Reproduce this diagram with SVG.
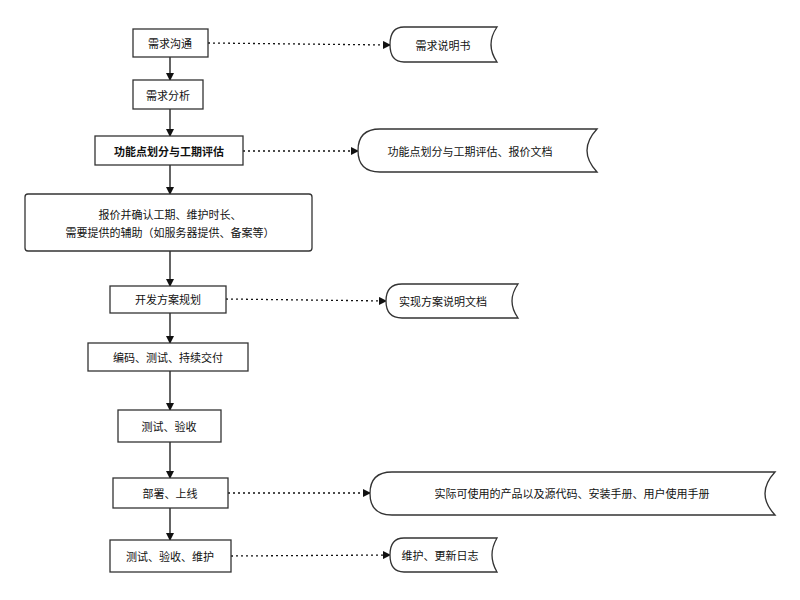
<svg xmlns="http://www.w3.org/2000/svg" width="800" height="600" viewBox="0 0 800 600">
<style>
rect{fill:#fff;stroke:#333;stroke-width:1.3}
.d{fill:#fff;stroke:#333;stroke-width:1.3}
text{font-family:"Noto Sans CJK SC","Liberation Sans",sans-serif;font-size:11px;fill:#111;text-anchor:middle;dominant-baseline:central}
.c line{stroke:#111;stroke-width:1.3}
.c .s{stroke-dasharray:2 3}
</style>
<defs><marker id="a" markerWidth="8" markerHeight="8" refX="7" refY="4" orient="auto" markerUnits="userSpaceOnUse"><path d="M0,0L8,4L0,8z" fill="#111"/></marker></defs>
<rect fill="#fff" width="800" height="600" style="stroke:none"/>
<g class="c">
<line x1="170" y1="57" x2="170" y2="80" marker-end="url(#a)"/>
<line x1="170" y1="109" x2="170" y2="136" marker-end="url(#a)"/>
<line x1="170" y1="165" x2="170" y2="194" marker-end="url(#a)"/>
<line x1="170" y1="251" x2="170" y2="286" marker-end="url(#a)"/>
<line x1="170" y1="313" x2="170" y2="343" marker-end="url(#a)"/>
<line x1="170" y1="371" x2="170" y2="410" marker-end="url(#a)"/>
<line x1="170" y1="442" x2="170" y2="478" marker-end="url(#a)"/>
<line x1="170" y1="508" x2="170" y2="540" marker-end="url(#a)"/>
<line class="s" x1="208" y1="43" x2="390" y2="45" marker-end="url(#a)"/>
<line class="s" x1="243" y1="151" x2="358" y2="151" marker-end="url(#a)"/>
<line class="s" x1="226" y1="299" x2="386" y2="301" marker-end="url(#a)"/>
<line class="s" x1="228" y1="493" x2="370" y2="493" marker-end="url(#a)"/>
<line class="s" x1="231" y1="556" x2="390" y2="555" marker-end="url(#a)"/>
</g>
<g id="n1"><rect x="133" y="29" width="75" height="28"/><text x="170" y="43">需求沟通</text></g>
<g id="n2"><rect x="133" y="80" width="70" height="29"/><text x="168" y="95">需求分析</text></g>
<g id="n3"><rect x="95" y="136" width="148" height="29"/><text x="169" y="151" font-weight="bold">功能点划分与工期评估</text></g>
<g id="n4"><rect x="25" y="194" width="287" height="57" rx="3"/><text x="170" y="214">报价并确认工期、维护时长、</text><text x="170" y="232">需要提供的辅助（如服务器提供、备案等）</text></g>
<g id="n5"><rect x="110" y="286" width="116" height="27"/><text x="168" y="299">开发方案规划</text></g>
<g id="n6"><rect x="88" y="343" width="160" height="28"/><text x="168" y="357">编码、测试、持续交付</text></g>
<g id="n7"><rect x="118" y="410" width="103" height="32"/><text x="169" y="426">测试、验收</text></g>
<g id="n8"><rect x="113" y="478" width="115" height="30"/><text x="170" y="493">部署、上线</text></g>
<g id="n9"><rect x="110" y="540" width="121" height="32"/><text x="170" y="556">测试、验收、维护</text></g>
<g id="o1"><path class="d" d="M404,27H497Q485,44.5 497,62H404Q390,62 390,44.5Q390,27 404,27Z"/><text x="443" y="45">需求说明书</text></g>
<g id="o2"><path class="d" d="M380,129H597Q577,150.5 597,172H380Q358,172 358,150.5Q358,129 380,129Z"/><text x="470" y="151">功能点划分与工期评估、报价文档</text></g>
<g id="o3"><path class="d" d="M402,284H518Q506,301 518,318H402Q386,318 386,301Q386,284 402,284Z"/><text x="443" y="301">实现方案说明文档</text></g>
<g id="o4"><path class="d" d="M392,472H775Q755,493.5 775,515H392Q370,515 370,493.5Q370,472 392,472Z"/><text x="572" y="493">实际可使用的产品以及源代码、安装手册、用户使用手册</text></g>
<g id="o5"><path class="d" d="M404,538H497Q487,555 497,572H404Q390,572 390,555Q390,538 404,538Z"/><text x="440" y="555">维护、更新日志</text></g>
</svg>
